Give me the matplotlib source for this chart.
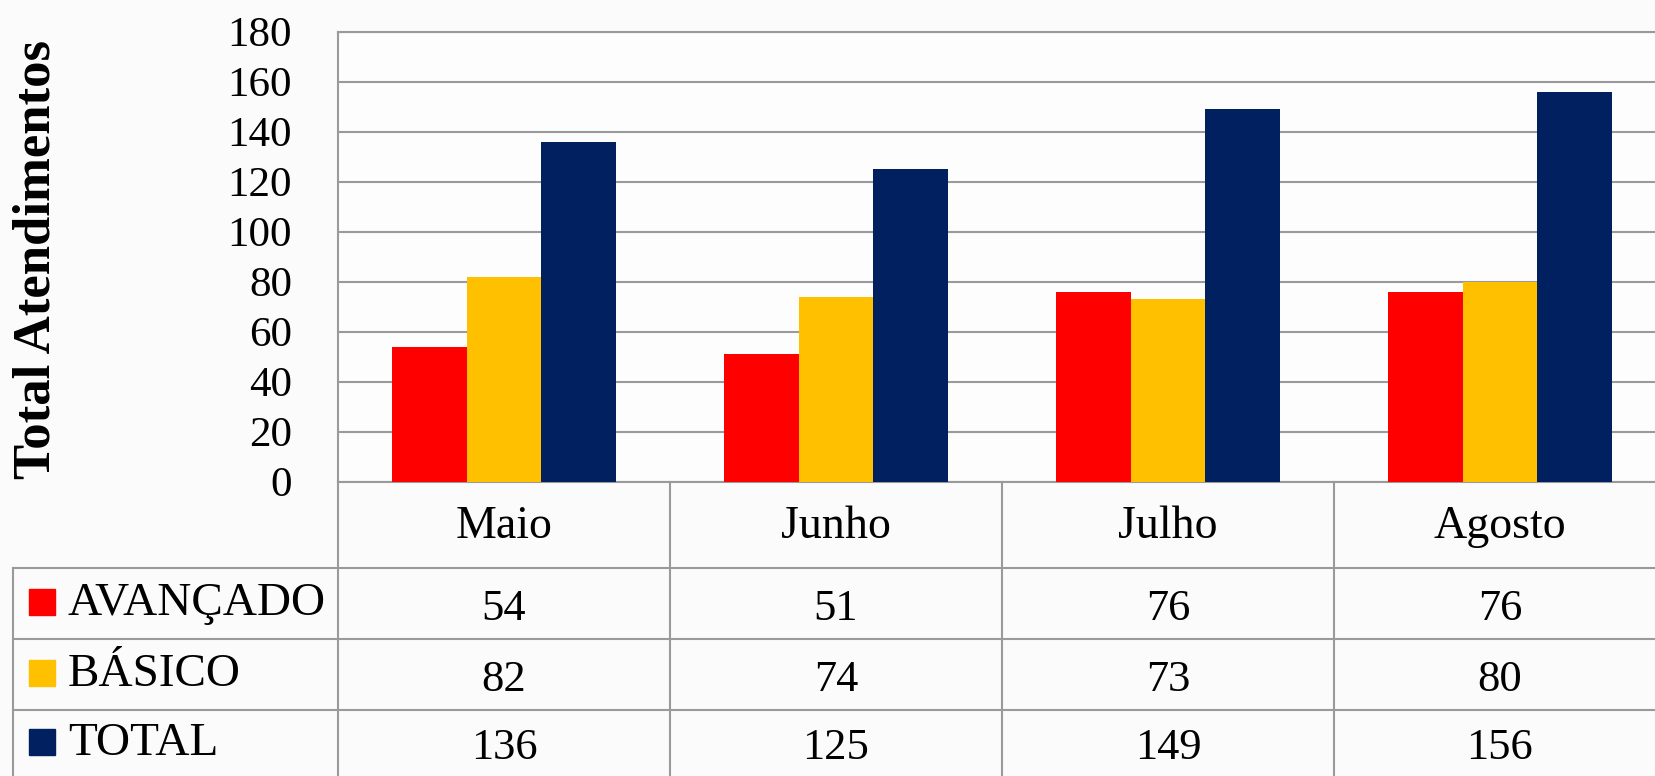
import matplotlib.pyplot as plt
import matplotlib.transforms as transforms
from matplotlib.patches import Rectangle
import numpy as np


## Global style
plt.rcParams['font.family'] = ['Liberation Serif', 'DejaVu Serif']
plt.rcParams['axes.linewidth'] = 1.5
plt.rcParams['figure.facecolor'] = '#fbfbfb'
plt.rcParams['axes.facecolor'] = '#fdfdfd'


## Data
months = ['Maio', 'Junho', 'Julho', 'Agosto']
series_names = ['AVANÇADO', 'BÁSICO', 'TOTAL']
avancado = [54, 51, 76, 76]
basico = [82, 74, 73, 80]
total = [136, 125, 149, 156]
yticks = [0, 20, 40, 60, 80, 100, 120, 140, 160, 180]

colors = ['#ff0000', '#ffc000', '#002060']
grid_color = '#9a9a9a'


fig = plt.figure(figsize=(16.56, 7.76), dpi=100)
ax = fig.add_axes([338 / 1656, 1 - 481.5 / 776, 1328 / 1656, 449.8 / 776])

x = np.arange(len(months))
width = 0.224
values = [avancado, basico, total]

## bars
for i, (vals, col) in enumerate(zip(values, colors)):
    ax.bar(x + (i - 1) * width, vals, width=width, color=col, zorder=3)

ax.set_xlim(-0.5, len(months) - 0.5)
ax.set_ylim(0, 180)
ax.set_yticks(yticks)
ax.set_yticklabels([str(t) for t in yticks], fontsize=31)
ax.tick_params(axis='y', length=0, pad=33)
ax.set_xticks([])
ax.yaxis.grid(True, color=grid_color, linewidth=1.5, zorder=0)

for side in ['left', 'top', 'bottom', 'right']:
    ax.spines[side].set_color(grid_color)

## y label
fig.text(37 / 1656, 1 - 260 / 776, 'Total Atendimentos', rotation=90,
         fontsize=38, fontweight='bold', ha='center', va='center')


## data table under the chart (x in data coords, y in axes coords)
trans = transforms.blended_transform_factory(ax.transData, ax.transAxes)
row_edges = [0, -0.192, -0.350, -0.508, -0.70]
label_left = -1.48

line_kw = dict(color=grid_color, linewidth=1.5, transform=trans, clip_on=False)

## horizontal lines
for y in row_edges[1:4]:
    ax.plot([label_left, len(months) - 0.5], [y, y], **line_kw)

## vertical lines
for xv in np.arange(-0.5, len(months), 1.0):
    ax.plot([xv, xv], [0, row_edges[-1]], **line_kw)
ax.plot([label_left, label_left], [row_edges[1], row_edges[-1]], **line_kw)

## header: month names
for i, m in enumerate(months):
    ax.text(x[i], -0.126, m, transform=trans,
            ha='center', va='baseline', fontsize=33, clip_on=False)

## rows: legend key + label + values
sq_w = 26 / 332
sq_h = 26 / 449.8
for r, (name, vals, col) in enumerate(zip(series_names, values, colors)):
    y_mid = (row_edges[r + 1] + row_edges[r + 2]) / 2
    if r == 2:
        y_mid = row_edges[3] - 0.074
    ax.add_patch(Rectangle((label_left + 0.048, y_mid + 0.003 - sq_h / 2), sq_w, sq_h,
                           color=col, transform=trans, clip_on=False))
    ax.text(label_left + 0.166, y_mid - 0.026, name, transform=trans,
            ha='left', va='baseline', fontsize=34, clip_on=False)
    for i, v in enumerate(vals):
        ax.text(x[i], y_mid - 0.036, str(v), transform=trans,
                ha='center', va='baseline', fontsize=32, clip_on=False)


fig.savefig('out.png', dpi=100, facecolor=fig.get_facecolor())
